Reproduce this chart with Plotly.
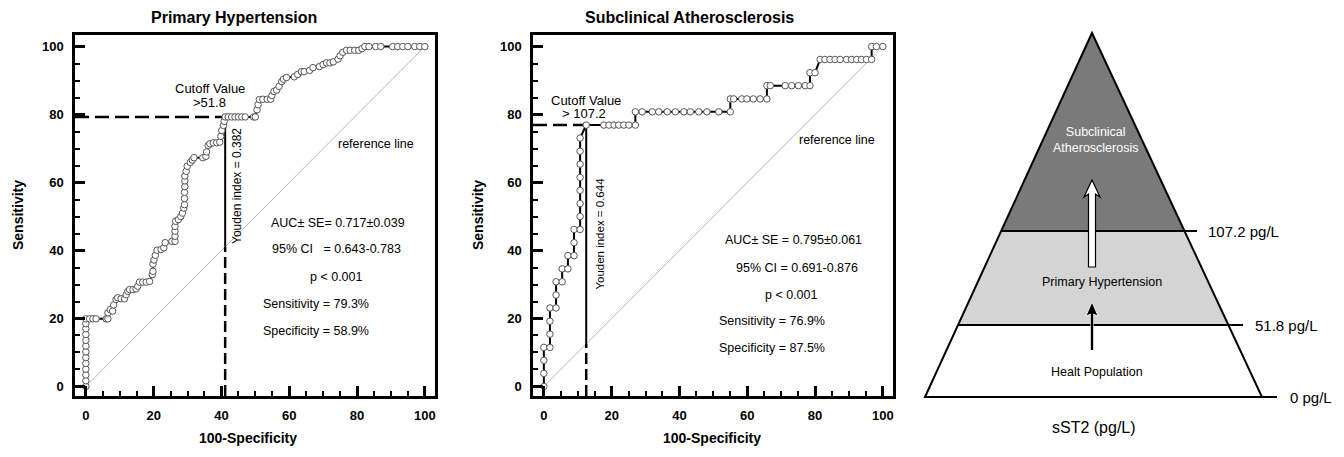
import plotly.graph_objects as go

# ---------------- DATA ----------------
# Primary Hypertension ROC curve (100-Specificity, Sensitivity)
ph_fpr = [0, 0, 0, 0, 0, 0, 0, 0, 0, 0, 0, 0, 0,
          1.1, 2.1, 3.0,
          6.0, 6.5, 6.5, 7.2, 7.9,
          8.2, 8.9, 9.4, 10.4, 11.4,
          11.9, 12.4, 12.9, 13.9, 14.8, 15.3,
          15.8, 16.8, 17.8, 18.8,
          19.6, 19.8, 19.8, 20.1, 20.5, 21.0,
          22.2, 23.0, 23.4, 25.4, 26.3, 26.3, 26.3, 26.3, 26.5,
          27.3, 28.0, 28.5, 28.9, 29.1, 29.1, 29.1, 29.2, 29.2, 29.2,
          29.6, 29.9, 30.8, 31.4, 31.9,
          34.5, 35.4,
          35.6, 36.1, 36.6, 37.6, 38.6, 39.5,
          39.8, 40.1, 40.6, 40.8, 41.1,
          42.0, 43.0, 44.0, 45.0, 46.0, 47.0,
          49.5, 50.0,
          50.5, 50.8, 51.2, 52.2, 53.5, 54.5,
          54.9, 55.5, 56.3,
          57.0, 57.8, 58.3, 59.2,
          61.5, 62.5, 63.6, 64.4,
          66.0, 67.0, 68.9, 70.0, 71.0, 72.0, 73.0,
          74.4, 75.0, 75.8, 76.9, 78.0, 79.3, 80.5,
          81.5, 82.3, 83.5, 85.5, 87.0, 90.5, 92.0, 93.5, 95.0, 97.0, 98.5, 100]
ph_tpr = [0, 1.7, 3.4, 5.1, 6.8, 8.5, 10.2, 11.9, 13.6, 15.3, 17.0, 18.5, 19.9,
          19.9, 19.9, 19.9,
          19.9, 19.9, 21.7, 22.6, 22.2,
          24.0, 25.6, 26.1, 25.8, 25.8,
          27.0, 28.0, 28.5, 28.5, 28.7, 29.5,
          30.7, 30.7, 30.7, 30.9,
          32.9, 33.9, 36.0, 37.2, 38.6, 40.1,
          40.3, 40.8, 42.3, 42.7, 42.7, 44.2, 45.7, 47.1, 48.6,
          49.1, 50.0, 51.0, 52.5, 53.5, 55.3, 57.1, 58.8, 60.5, 61.9,
          63.3, 64.8, 65.9, 66.6, 67.3,
          67.3, 67.7,
          69.0, 70.9, 71.4, 71.7, 71.7, 71.9,
          73.6, 75.3, 76.8, 78.0, 79.3,
          79.3, 79.3, 79.3, 79.3, 79.3, 79.3,
          79.3, 79.3,
          81.4, 82.9, 84.4, 84.5, 84.5, 84.5,
          85.6, 86.8, 87.2,
          88.3, 89.7, 90.4, 90.9,
          91.1, 91.8, 92.6, 92.6,
          93.0, 93.8, 94.1, 94.7, 95.2, 95.2, 95.5,
          96.3, 97.3, 98.3, 98.9, 98.9, 98.9, 98.9,
          99.4, 100, 100, 100, 100, 100, 100, 100, 100, 100, 100, 100]

# Subclinical Atherosclerosis ROC curve
sa_fpr = [0, 0, 0, 0, 1.8, 1.8, 1.8, 1.8, 3.6, 3.6, 3.6, 5.4, 5.4, 7.1, 7.1,
          8.9, 8.9, 8.9, 10.7, 10.7, 10.7, 10.7, 10.7, 10.7, 10.7, 10.7,
          12.5, 17.7, 19.2, 20.7, 22.1, 23.6, 25.1, 27.0,
          27.0, 29.0, 32.0, 33.9, 36.4, 38.8, 41.3, 43.2, 45.7, 48.1, 51.6, 55.0,
          55.0, 56.0, 58.4, 59.9, 61.8, 63.8, 65.8,
          65.8, 66.8, 71.2, 73.1, 75.1, 77.1, 78.5,
          78.5, 80.0,
          81.5, 82.9, 84.4, 85.9, 87.4, 89.3, 90.8, 92.3, 93.7, 95.2, 96.7,
          96.7, 98.1, 100]
sa_tpr = [0, 3.85, 7.7, 11.5, 11.5, 15.4, 19.2, 23.1, 23.1, 26.9, 30.8, 30.8, 34.6, 34.6, 38.5,
          38.5, 42.3, 46.2, 46.2, 50.0, 53.8, 57.7, 61.5, 65.4, 69.2, 73.1,
          76.9, 76.9, 76.9, 76.9, 76.9, 76.9, 76.9, 76.9,
          80.8, 80.8, 80.8, 80.8, 80.8, 80.8, 80.8, 80.8, 80.8, 80.8, 80.8, 80.8,
          84.6, 84.6, 84.6, 84.6, 84.6, 84.6, 84.6,
          88.5, 88.5, 88.5, 88.5, 88.5, 88.5, 88.5,
          92.3, 92.3,
          96.2, 96.2, 96.2, 96.2, 96.2, 96.2, 96.2, 96.2, 96.2, 96.2, 96.2,
          100, 100, 100]

titles = ["Primary Hypertension", "Subclinical Atherosclerosis"]
ph_sens, ph_spec = 79.3, 58.9
sa_sens, sa_spec = 76.9, 87.5
ph_cutoff_lbl = ["Cutoff Value", ">51.8"]
sa_cutoff_lbl = ["Cutoff Value", "> 107.2"]
ph_youden = "Youden index = 0.382"
sa_youden = "Youden index = 0.644"
ph_stats = ["AUC\u00b1 SE= 0.717\u00b10.039", "95% CI   = 0.643-0.783", "p < 0.001",
            "Sensitivity = 79.3%", "Specificity = 58.9%"]
sa_stats = ["AUC\u00b1 SE = 0.795\u00b10.061", "95% CI = 0.691-0.876", "p < 0.001",
            "Sensitivity = 76.9%", "Specificity = 87.5%"]
tick_vals = [0, 20, 40, 60, 80, 100]
ref_line = [0, 100]

# pyramid
pyr_levels = ["0 pg/L", "51.8 pg/L", "107.2 pg/L"]
pyr_bands = ["Healt Population", "Primary Hypertension", "Subclinical<br>Atherosclerosis"]
pyr_axis_title = "sST2 (pg/L)"

# ---------------- FIGURE ----------------
FONT = "Liberation Sans, Arial, Helvetica, sans-serif"
W, H = 1344, 457
XR = [-3.2, 103.0]
YR = [-2.8, 103.4]

fig = go.Figure()


def add_roc(xa, ya, fpr, tpr, sens, spec):
    xr, yr = xa, ya
    fig.add_trace(go.Scatter(x=ref_line, y=ref_line, mode="lines",
                             line=dict(color="#b5b5b5", width=1),
                             xaxis=xr, yaxis=yr, showlegend=False, hoverinfo="skip"))
    cut_x = 100 - spec
    fig.add_trace(go.Scatter(x=[XR[0], cut_x], y=[sens, sens], mode="lines",
                             line=dict(color="black", width=2.5, dash="14px,6px"),
                             xaxis=xr, yaxis=yr, showlegend=False, hoverinfo="skip"))
    fig.add_trace(go.Scatter(x=[cut_x, cut_x], y=[YR[0], cut_x], mode="lines",
                             line=dict(color="black", width=2.5, dash="11px,5px"),
                             xaxis=xr, yaxis=yr, showlegend=False, hoverinfo="skip"))
    fig.add_trace(go.Scatter(x=[cut_x, cut_x], y=[cut_x, sens], mode="lines",
                             line=dict(color="black", width=2),
                             xaxis=xr, yaxis=yr, showlegend=False, hoverinfo="skip"))
    fig.add_trace(go.Scatter(x=fpr, y=tpr, mode="lines+markers",
                             line=dict(color="black", width=2),
                             marker=dict(symbol="circle", size=6.5, color="white",
                                         line=dict(color="#555555", width=1)),
                             xaxis=xr, yaxis=yr, showlegend=False))


add_roc("x", "y", ph_fpr, ph_tpr, ph_sens, ph_spec)
add_roc("x2", "y2", sa_fpr, sa_tpr, sa_sens, sa_spec)


def ax_common(domain, rng, anchor):
    return dict(domain=domain, range=rng, anchor=anchor,
                showline=True, linewidth=2.5, linecolor="black", mirror=True,
                ticks="inside", ticklen=10, tickwidth=2.5, tickcolor="black",
                tickvals=tick_vals, showgrid=False, zeroline=False,
                tickfont=dict(family=FONT, size=13, color="black", weight="bold"),
                minor=dict(dtick=5, tick0=0, ticks="inside", ticklen=5, tickwidth=2,
                           tickcolor="black", showgrid=False),
                automargin=False, fixedrange=True)


def px_x(p):
    return p / W


def px_y(p):
    return 1 - p / H


d1x = [px_x(75), px_x(435)]
d2x = [px_x(533), px_x(893)]
dy = [px_y(396), px_y(35)]

fig.update_layout(
    xaxis=dict(**ax_common(d1x, XR, "y"), ticklabelstandoff=6),
    yaxis=dict(**ax_common(dy, YR, "x"), ticklabelstandoff=6),
    xaxis2=dict(**ax_common(d2x, XR, "y2"), ticklabelstandoff=6),
    yaxis2=dict(**ax_common(dy, YR, "x2"), ticklabelstandoff=6),
    xaxis3=dict(domain=[px_x(900), 1.0], range=[900, 1344], visible=False,
                anchor="y3", fixedrange=True),
    yaxis3=dict(domain=[0, 1], range=[457, 0], visible=False,
                anchor="x3", fixedrange=True),
)

ann = []


def txt(text, x, y, xref, yref, size=12.5, bold=False, xanchor="center", color="black",
        textangle=0):
    ann.append(dict(text=f"<b>{text}</b>" if bold else text, x=x, y=y, xref=xref, yref=yref,
                    showarrow=False, xanchor=xanchor, yanchor="middle", textangle=textangle,
                    font=dict(family=FONT, size=size, color=color)))


txt(titles[0], px_x(234), px_y(18), "paper", "paper", size=16, bold=True)
txt(titles[1], px_x(690), px_y(18), "paper", "paper", size=16, bold=True)
for xc, yt in [(18, 215), (478, 215)]:
    txt("Sensitivity", px_x(xc), px_y(yt), "paper", "paper", size=14, bold=True, textangle=-90)
for xc in [248, 712]:
    txt("100-Specificity", px_x(xc), px_y(438), "paper", "paper", size=14, bold=True)

# left panel annotations
txt(ph_cutoff_lbl[0], 36.6, 87.6, "x", "y", size=13)
txt(ph_cutoff_lbl[1], 36.4, 83.6, "x", "y", size=13)
txt(ph_youden, 44.6, 59.0, "x", "y", size=12, textangle=-90)
txt("reference line", 85.7, 71.2, "x", "y")
txt(ph_stats[0], 74.4, 48.1, "x", "y")
txt(ph_stats[1], 74.0, 40.3, "x", "y")
txt(ph_stats[2], 74.0, 32.2, "x", "y")
txt(ph_stats[3], 51.8, 24.3, "x", "y", xanchor="left")
txt(ph_stats[4], 51.8, 16.3, "x", "y", xanchor="left")

# middle panel annotations
txt(sa_cutoff_lbl[0], 12.4, 84.0, "x2", "y2", size=13)
txt(sa_cutoff_lbl[1], 11.9, 80.3, "x2", "y2", size=13)
txt(sa_youden, 16.3, 45.0, "x2", "y2", size=11.5, textangle=-90)
txt("reference line", 86.4, 72.5, "x2", "y2")
txt(sa_stats[0], 73.6, 43.0, "x2", "y2")
txt(sa_stats[1], 74.6, 34.9, "x2", "y2")
txt(sa_stats[2], 73.1, 27.0, "x2", "y2")
txt(sa_stats[3], 51.1, 19.2, "x2", "y2", xanchor="left")
txt(sa_stats[4], 51.1, 11.3, "x2", "y2", xanchor="left")

# ---------------- PYRAMID ----------------
apex = (1092, 33)
base_y = 397
base_l, base_r = 925, 1262
y_hi, y_lo = 231, 325


def lx(y):
    return apex[0] - (y - apex[1]) * (apex[0] - base_l) / (base_y - apex[1])


def rx(y):
    return apex[0] + (y - apex[1]) * (base_r - apex[0]) / (base_y - apex[1])


shapes = []
shapes.append(dict(type="path", xref="x3", yref="y3",
                   path=f"M {lx(y_lo)},{y_lo} L {rx(y_lo)},{y_lo} L {base_r},{base_y} L {base_l},{base_y} Z",
                   fillcolor="white", line=dict(width=0)))
shapes.append(dict(type="path", xref="x3", yref="y3",
                   path=f"M {lx(y_hi)},{y_hi} L {rx(y_hi)},{y_hi} L {rx(y_lo)},{y_lo} L {lx(y_lo)},{y_lo} Z",
                   fillcolor="#d4d4d4", line=dict(width=0)))
shapes.append(dict(type="path", xref="x3", yref="y3",
                   path=f"M {apex[0]},{apex[1]} L {rx(y_hi)},{y_hi} L {lx(y_hi)},{y_hi} Z",
                   fillcolor="#7a7a7a", line=dict(width=0)))
shapes.append(dict(type="path", xref="x3", yref="y3",
                   path=f"M {apex[0]},{apex[1]} L {base_r},{base_y} L {base_l},{base_y} Z",
                   fillcolor="rgba(0,0,0,0)", line=dict(color="black", width=2)))
for yv, xe in [(y_hi, 1197), (y_lo, 1243), (base_y, 1277)]:
    shapes.append(dict(type="line", xref="x3", yref="y3", x0=lx(yv), x1=xe, y0=yv, y1=yv,
                       line=dict(color="black", width=2)))
ax0 = apex[0]
# white arrow with black outline
shapes.append(dict(type="path", xref="x3", yref="y3",
                   path=(f"M {ax0-3.5},267 L {ax0+3.5},267 L {ax0+3.5},194 L {ax0+8},197 "
                         f"L {ax0},180 L {ax0-8},197 L {ax0-3.5},194 Z"),
                   fillcolor="white", line=dict(color="black", width=1.2)))
# black arrow with thin white outline
shapes.append(dict(type="path", xref="x3", yref="y3",
                   path=(f"M {ax0-1.2},350 L {ax0+1.2},350 L {ax0+1.2},314 L {ax0+6},316 "
                         f"L {ax0},302 L {ax0-6},316 L {ax0-1.2},314 Z"),
                   fillcolor="black", line=dict(color="white", width=0.8)))
shapes.append(dict(type="line", xref="x3", yref="y3", x0=ax0, x1=ax0, y0=350, y1=312,
                   line=dict(color="black", width=2.2)))
fig.update_layout(shapes=shapes)

txt(pyr_bands[2], 1095, 140, "x3", "y3", size=12.5, color="white")
txt(pyr_bands[1], 1102, 282, "x3", "y3", size=12.5)
txt(pyr_bands[0], 1097, 372, "x3", "y3", size=12.5)
txt(pyr_levels[2], 1206, y_hi, "x3", "y3", size=15, xanchor="left")
txt(pyr_levels[1], 1253, y_lo, "x3", "y3", size=15, xanchor="left")
txt(pyr_levels[0], 1288, base_y, "x3", "y3", size=15, xanchor="left")
txt(pyr_axis_title, 1094, 427, "x3", "y3", size=16)

fig.update_layout(annotations=ann, width=W, height=H,
                  margin=dict(l=0, r=0, t=0, b=0),
                  plot_bgcolor="white", paper_bgcolor="white",
                  font=dict(family=FONT, color="black"), showlegend=False)

fig.write_html("out.html", config={"displayModeBar": False},
               post_script="document.body.style.margin='0';")
